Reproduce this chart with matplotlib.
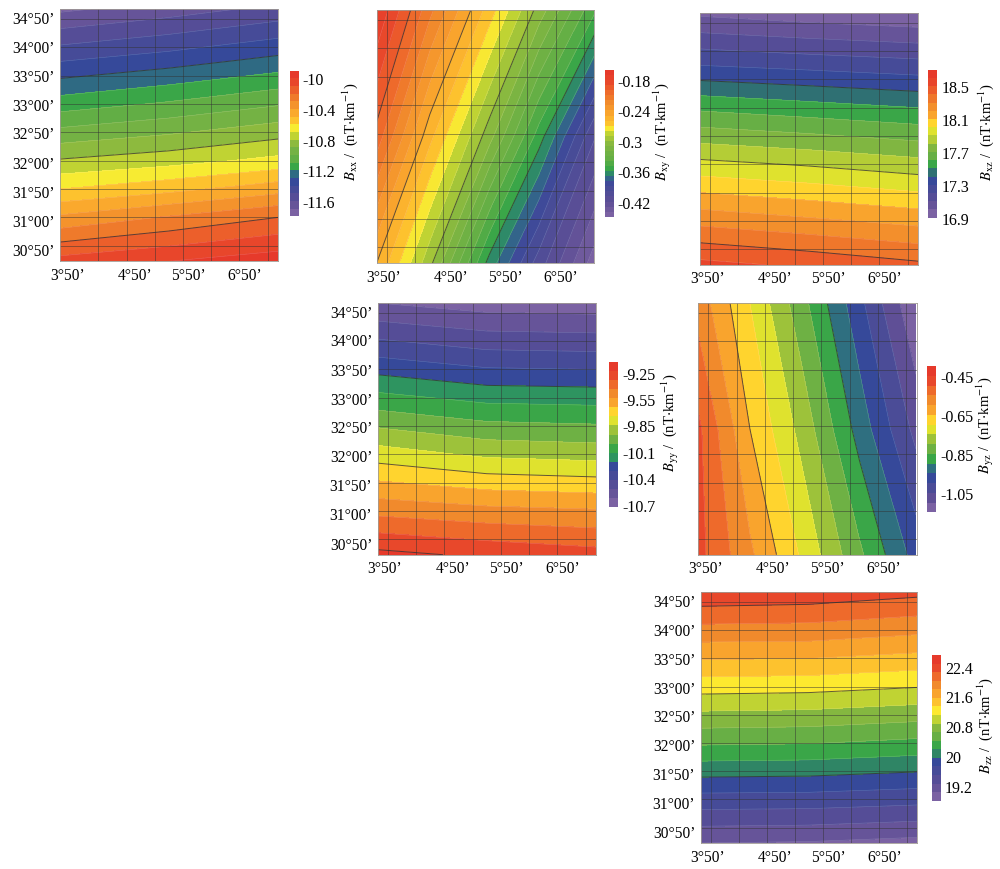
"""
Gravity gradient tensor components over the survey area
"""

import matplotlib

matplotlib.use("Agg")

import matplotlib.pyplot as plt
import numpy as np
from matplotlib.colors import LinearSegmentedColormap

FIG_W = 1000
FIG_H = 870

plt.rcParams["font.family"] = ["Liberation Serif", "DejaVu Serif"]
plt.rcParams["mathtext.fontset"] = "stix"

lat_labels = ["30°50’", "31°00’", "31°50’", "32°00’", "32°50’",
              "33°00’", "33°50’", "34°00’", "34°50’"]
lon_labels = ["3°50’", "4°50’", "5°50’", "6°50’"]
lat_label_pos = [-0.12, 0.91, 1.94, 2.96, 4.0, 5.0, 6.02, 7.06, 8.08]
lon_label_pos = [-0.1, 2.3, 4.2, 6.2]

# field samples, rows run south to north, columns west to east
three_cols = [-0.36, 3.5, 7.38]
band_rows = [-0.55, 1, 3, 5, 6.5, 8.35]

bxx_rows = [-0.55, 1, 2, 3, 5, 6.5, 8.35]
bxx_values = [
    [-10.06, -10.00, -9.94],
    [-10.38, -10.29, -10.20],
    [-10.60, -10.53, -10.44],
    [-10.79, -10.74, -10.67],
    [-11.15, -11.086, -11.01],
    [-11.40, -11.34, -11.265],
    [-11.72, -11.65, -11.57],
]
bxx_levels = [-11.8, -9.9, 19]
bxx_ticks = [-10, -10.4, -10.8, -11.2, -11.6]
bxx_ticklabels = ["-10", "-10.4", "-10.8", "-11.2", "-11.6"]
bxx_dark = [-11.3, -10.8, -10.2]

bxy_cols = [-0.36, 1.53, 3.65, 5.41, 7.38]
bxy_rows = [-0.55, 3.9, 8.35]
bxy_values = [
    [-0.25, -0.297, -0.364, -0.405, -0.445],
    [-0.204, -0.257, -0.306, -0.355, -0.409],
    [-0.17, -0.217, -0.265, -0.304, -0.348],
]
bxy_levels = [-0.45, -0.16, 29]
bxy_ticks = [-0.18, -0.24, -0.3, -0.36, -0.42]
bxy_ticklabels = ["-0.18", "-0.24", "-0.3", "-0.36", "-0.42"]
bxy_dark = [-0.36, -0.30, -0.25, -0.20]

bxz_values = [
    [18.53, 18.48, 18.42],
    [18.27, 18.22, 18.17],
    [17.93, 17.89, 17.84],
    [17.58, 17.54, 17.50],
    [17.30, 17.27, 17.24],
    [16.98, 16.94, 16.91],
]
bxz_levels = [16.9, 18.7, 18]
bxz_ticks = [18.5, 18.1, 17.7, 17.3, 16.9]
bxz_ticklabels = ["18.5", "18.1", "17.7", "17.3", "16.9"]
bxz_dark = [17.4, 17.9, 18.4]

byy_values = [
    [-9.20, -9.25, -9.29],
    [-9.46, -9.50, -9.52],
    [-9.78, -9.85, -9.87],
    [-10.10, -10.16, -10.17],
    [-10.34, -10.40, -10.41],
    [-10.63, -10.68, -10.69],
]
byy_levels = [-10.73, -9.13, 16]
byy_ticks = [-9.25, -9.54, -9.83, -10.12, -10.41, -10.7]
byy_ticklabels = ["-9.25", "-9.55", "-9.85", "-10.1", "-10.4", "-10.7"]
byy_dark = [-10.23, -9.73, -9.23]

byz_cols = [-0.35, 1.47, 3.35, 5.35, 7.35]
byz_rows = [-0.55, 3.9, 8.33]
byz_values = [
    [-0.485, -0.59, -0.71, -0.84, -0.97],
    [-0.49, -0.65, -0.77, -0.92, -1.065],
    [-0.57, -0.70, -0.835, -0.985, -1.145],
]
byz_levels = [-1.15, -0.40, 15]
byz_ticks = [-0.45, -0.65, -0.85, -1.05]
byz_ticklabels = ["-0.45", "-0.65", "-0.85", "-1.05"]
byz_dark = [-0.90, -0.65]

bzz_values = [
    [19.03, 19.01, 18.95],
    [19.63, 19.62, 19.57],
    [20.44, 20.42, 20.35],
    [21.20, 21.18, 21.11],
    [21.76, 21.75, 21.67],
    [22.43, 22.40, 22.31],
]
bzz_levels = [18.8, 22.71, 17]
bzz_ticks = [22.4, 21.6, 20.8, 20, 19.2]
bzz_ticklabels = ["22.4", "21.6", "20.8", "20", "19.2"]
bzz_dark = [19.95, 21.10, 22.25]

LOW_COLORS = ["#7b62a3", "#5f4f96", "#4b4c97", "#36499a"]
MID_COLORS = ["#3aa648", "#62ae45", "#74b244", "#8cba3e", "#c0d333"]
HIGH_COLORS = ["#f9a42d", "#f18a2c", "#ee6a2b", "#e8482b", "#e63a2b"]


def ramp(colors, n):
    cmap = LinearSegmentedColormap.from_list("ramp", colors)
    return [cmap(v) for v in np.linspace(0, 1, n)]


def band_colors(n, i_teal, i_yellow, teal, yellow, gold_band=False):
    # gold_band: the brightest band is already gold, so a lemon band sits under it
    mid_colors = MID_COLORS + ["#dfe22e"] if gold_band else MID_COLORS
    high_colors = HIGH_COLORS if gold_band else ["#fdc22e"] + HIGH_COLORS
    low = ramp(LOW_COLORS, i_teal)
    mid = ramp(mid_colors, i_yellow - i_teal - 1)
    high = ramp(high_colors, n - i_yellow - 1)
    return low + [teal] + mid + [yellow] + high


def px_rect(left, top, right, bottom):
    return [left / FIG_W, 1 - bottom / FIG_H, (right - left) / FIG_W, (bottom - top) / FIG_H]


def draw_panel(fig, box, cbar_box, cols, rows, values, level_spec, ticks, ticklabels,
               dark, colors, name, label_xy, show_lat=False, skip_first_lon=False):
    ax = fig.add_axes(px_rect(*box))
    low, high, n = level_spec
    levels = np.linspace(low, high, n + 1)
    cs = ax.contourf(cols, rows, values, levels=levels, colors=colors)
    ax.contour(cols, rows, values, levels=levels, colors="white", linewidths=0.4,
               linestyles="solid", alpha=0.22)
    ax.contour(cols, rows, values, levels=sorted(dark), colors="#2a2a2a", linewidths=0.7,
               linestyles="solid", alpha=0.75)

    ax.set_xlim(-0.36, 7.38)
    ax.set_ylim(-0.55, 8.35)
    for i in range(1 if skip_first_lon else 0, 8):
        ax.axvline(i, color="#333333", lw=0.7, alpha=0.5)
    for i in range(9):
        ax.axhline(i, color="#333333", lw=0.7, alpha=0.5)

    ax.set_xticks(lon_label_pos, lon_labels, fontsize=11.2)
    if show_lat:
        ax.set_yticks(lat_label_pos, lat_labels, fontsize=11.2)
    else:
        ax.set_yticks([])
    ax.tick_params(length=0, pad=4)
    for spine in ax.spines.values():
        spine.set_linewidth(0.6)
        spine.set_color("#a09a94")

    cax = fig.add_axes(px_rect(*cbar_box))
    cbar = fig.colorbar(cs, cax=cax, ticks=ticks)
    cbar.ax.set_yticklabels(ticklabels, fontsize=11.5)
    cbar.ax.tick_params(length=0, pad=3)
    cbar.outline.set_visible(False)

    label = rf"$B_{{\mathrm{{{name}}}}}$ /  (nT$\cdot$km$^{{-1}}$)"
    fig.text(label_xy[0] / FIG_W, 1 - label_xy[1] / FIG_H, label, rotation=90,
             ha="center", va="center", fontsize=10.5)
    return ax


fig = plt.figure(figsize=(FIG_W / 100, FIG_H / 100), dpi=100)

# Bxy has a second, bluer teal band under the main one
bxy_colors = band_colors(29, 8, 17, "#2e8a68", "#f8e832")
bxy_colors[7] = "#33648a"

draw_panel(fig, (60, 10, 278.3, 262.3), (290, 71.7, 298.7, 217.3),
           three_cols, bxx_rows, bxx_values, bxx_levels, bxx_ticks, bxx_ticklabels, bxx_dark,
           band_colors(19, 5, 11, "#2f6a83", "#f7eb32"), "xx", (350, 132),
           show_lat=True, skip_first_lon=True)
draw_panel(fig, (376.7, 11, 594.3, 264), (604.7, 71, 613.7, 217.7),
           bxy_cols, bxy_rows, bxy_values, bxy_levels, bxy_ticks, bxy_ticklabels, bxy_dark,
           bxy_colors, "xy", (662, 132))
draw_panel(fig, (700, 14, 918.3, 265.7), (928.3, 70.7, 937, 218.7),
           three_cols, band_rows, bxz_values, bxz_levels, bxz_ticks, bxz_ticklabels, bxz_dark,
           band_colors(18, 5, 11, "#2f7073", "#ffd42e", gold_band=True), "xz", (986, 132))
draw_panel(fig, (377.7, 304, 596.3, 555.7), (609.3, 362.7, 618.3, 508.3),
           three_cols, band_rows, byy_values, byy_levels, byy_ticks, byy_ticklabels, byy_dark,
           band_colors(16, 5, 10, "#2e9460", "#ffd42e", gold_band=True), "yy", (670, 423),
           show_lat=True)
draw_panel(fig, (698.3, 304.3, 916.7, 555.7), (927.3, 367, 936.3, 513.3),
           byz_cols, byz_rows, byz_values, byz_levels, byz_ticks, byz_ticklabels, byz_dark,
           band_colors(15, 4, 9, "#2f6f80", "#ffd42e", gold_band=True), "yz", (985, 425))
draw_panel(fig, (700.7, 593.3, 917.3, 844), (931.7, 656, 940.7, 801.7),
           three_cols, band_rows, bzz_values, bzz_levels, bzz_ticks, bzz_ticklabels, bzz_dark,
           band_colors(17, 5, 10, "#2f8565", "#fde92f"), "zz", (985, 725),
           show_lat=True)

fig.savefig("out.png", dpi=100)
